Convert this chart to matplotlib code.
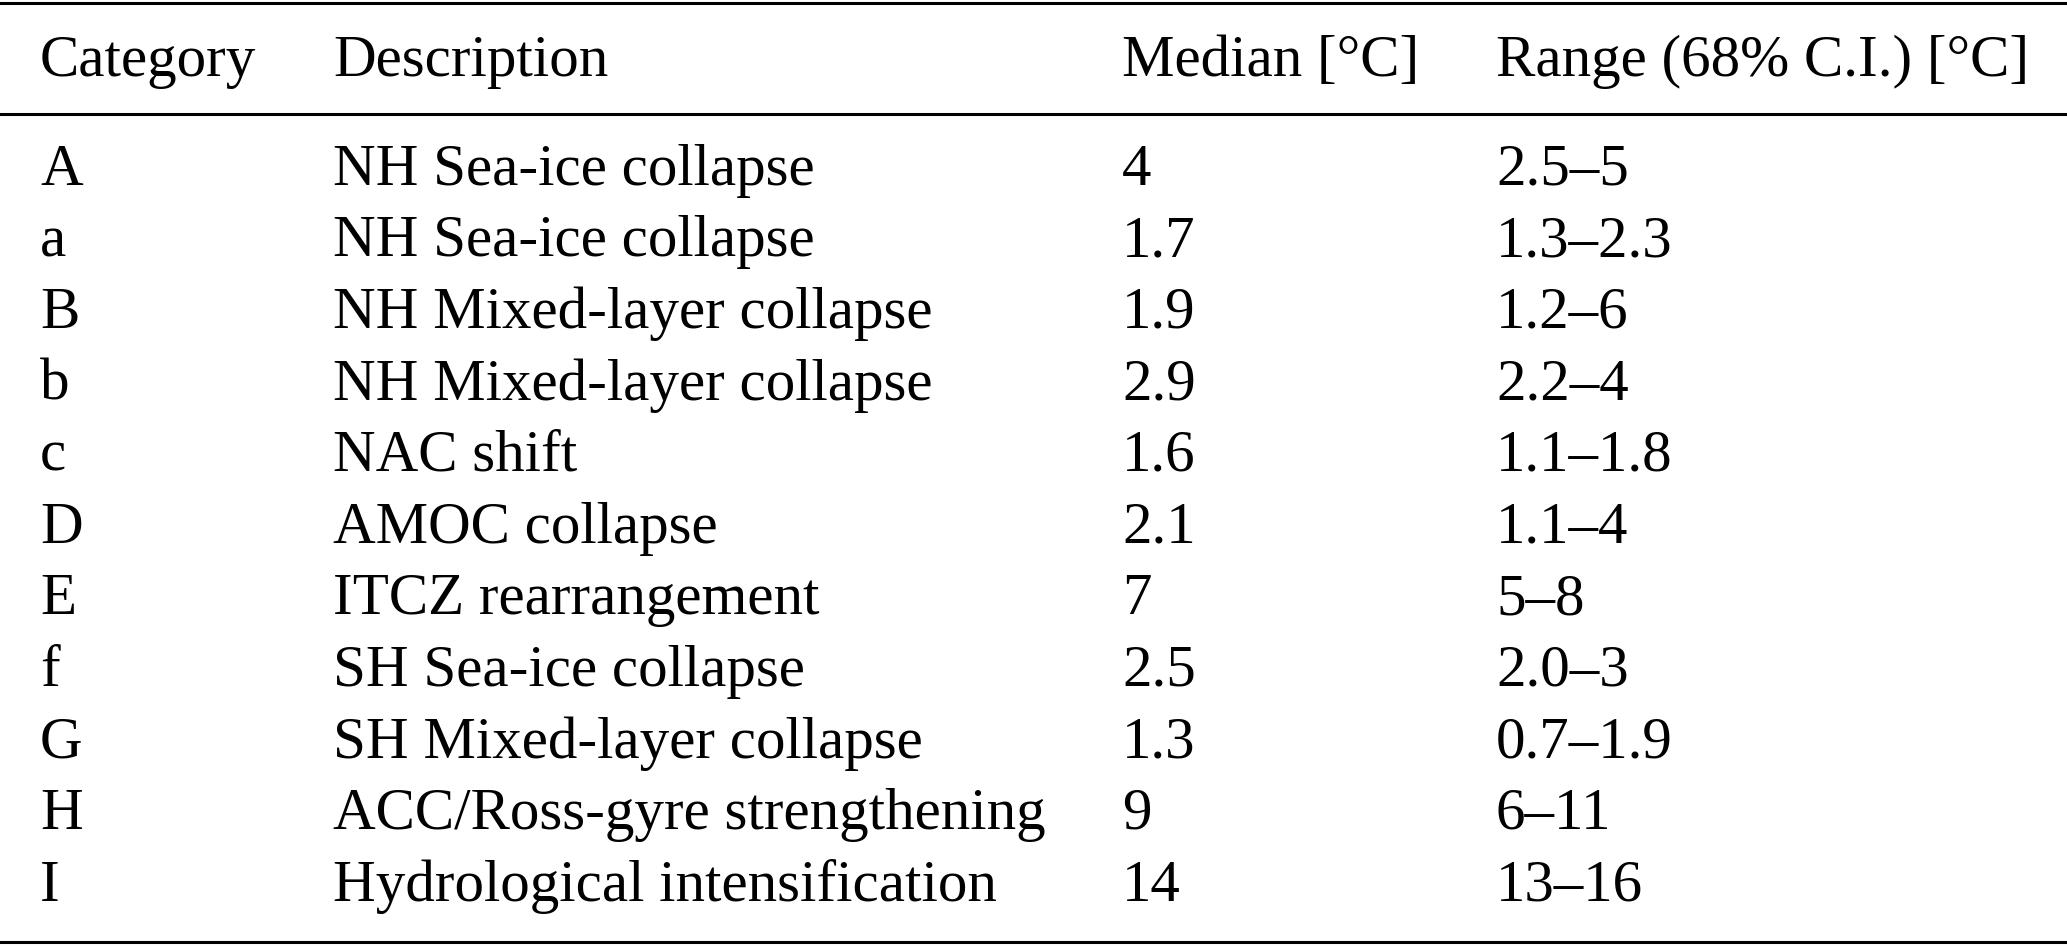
import matplotlib
matplotlib.use("Agg")
import matplotlib.pyplot as plt

# table content
headers = ["Category", "Description", "Median [°C]", "Range (68% C.I.) [°C]"]
categories = ["A", "a", "B", "b", "c", "D", "E", "f", "G", "H", "I"]
descriptions = ["NH Sea-ice collapse", "NH Sea-ice collapse",
                "NH Mixed-layer collapse", "NH Mixed-layer collapse",
                "NAC shift", "AMOC collapse", "ITCZ rearrangement",
                "SH Sea-ice collapse", "SH Mixed-layer collapse",
                "ACC/Ross-gyre strengthening", "Hydrological intensification"]
medians = ["4", "1.7", "1.9", "2.9", "1.6", "2.1", "7", "2.5", "1.3", "9", "14"]
ranges = ["2.5–5", "1.3–2.3", "1.2–6", "2.2–4", "1.1–1.8", "1.1–4", "5–8",
          "2.0–3", "0.7–1.9", "6–11", "13–16"]

plt.rcParams['font.family'] = ['Liberation Serif', 'DejaVu Serif']

W, H = 2067, 947
fig = plt.figure(figsize=(W / 100, H / 100), dpi=100)
ax = fig.add_axes([0, 0, 1, 1])
ax.set_xlim(0, W)
ax.set_ylim(H, 0)
ax.axis("off")

col_x = [40, 333, 1122, 1496]
fs = 42.5
y_head = 55
y0, dy = 164, 71.6

# rules
ax.axhline(2.5, color="black", lw=2.2)
ax.axhline(114, color="black", lw=2.2)
ax.axhline(942, color="black", lw=2.2)

for x, h in zip(col_x, headers):
    ax.text(x, y_head, h, fontsize=fs, ha="left", va="center_baseline")

columns = [categories, descriptions, medians, ranges]
for i in range(len(categories)):
    y = y0 + i * dy
    for x, col in zip(col_x, columns):
        ax.text(x, y, col[i], fontsize=fs, ha="left", va="center_baseline")

fig.savefig("out.png", dpi=100)
